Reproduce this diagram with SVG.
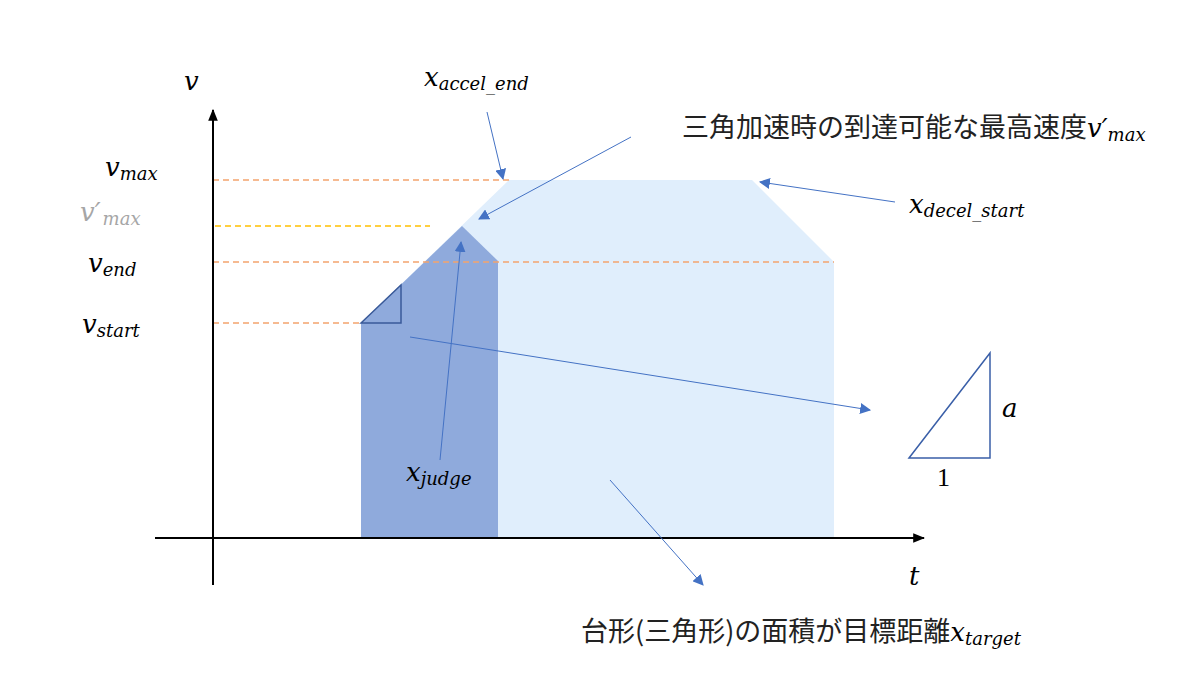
<svg xmlns="http://www.w3.org/2000/svg" width="1200" height="683" viewBox="0 0 1200 683">
<style>
.m{font-family:"DejaVu Serif","Liberation Serif",serif;font-style:italic;fill:#000}
.b{font-size:26px}
.s{font-size:18px}
.jp{font-family:"Noto Sans CJK JP","Noto Sans",sans-serif;font-size:27px;fill:#222}
.dash{stroke-width:1.5;stroke-dasharray:6 4;fill:none}
.ann{stroke:#4472C4;stroke-width:1;fill:none;marker-end:url(#ah)}
</style>
<defs>
<marker id="ah" viewBox="0 0 10 10" refX="9" refY="5" markerWidth="11" markerHeight="11" markerUnits="userSpaceOnUse" orient="auto">
<path d="M0,0 L10,5 L0,10 Z" fill="#4472C4"/>
</marker>
<marker id="ax" viewBox="0 0 10 10" refX="9" refY="5" markerWidth="12" markerHeight="12" markerUnits="userSpaceOnUse" orient="auto">
<path d="M0,1 L10,5 L0,9 Z" fill="#000"/>
</marker>
</defs>
<rect width="1200" height="683" fill="#fff"/>

<g id="area">
<polygon points="361,323 509,180 752,180 834,262 834,538 361,538" fill="#E0EEFC"/>
<polygon points="361,323 462,226 498,261 498,538 361,538" fill="#8FAADC"/>
<polygon points="361,323 401,285 401,323" fill="none" stroke="#3A5A99" stroke-width="1.5"/>
</g>

<g id="guides">
<line x1="213" y1="180" x2="509" y2="180" class="dash" stroke="#F4A46E"/>
<line x1="215" y1="226" x2="430" y2="226" class="dash" stroke="#FFC000"/>
<line x1="213" y1="262" x2="834" y2="262" class="dash" stroke="#F4A46E"/>
<line x1="213" y1="323" x2="361" y2="323" class="dash" stroke="#F4A46E"/>
</g>

<g id="axes">
<line x1="213" y1="585" x2="213" y2="110" stroke="#000" stroke-width="2" marker-end="url(#ax)"/>
<line x1="155" y1="538" x2="924" y2="538" stroke="#000" stroke-width="2" marker-end="url(#ax)"/>
</g>

<g id="slope-triangle">
<polygon points="909,458 990,353 990,458" fill="none" stroke="#3A5FA8" stroke-width="1.5"/>
</g>

<g id="connectors">
<line x1="487" y1="112" x2="503" y2="179" class="ann"/>
<line x1="631" y1="137" x2="479" y2="219" class="ann"/>
<line x1="895" y1="202" x2="760" y2="182" class="ann"/>
<line x1="440" y1="460" x2="461" y2="242" class="ann"/>
<line x1="410" y1="337" x2="870" y2="410" class="ann"/>
<line x1="610" y1="480" x2="703" y2="585" class="ann"/>
</g>

<g id="labels">
<text class="m b" x="184" y="90">v</text>
<text class="m" x="105" y="176"><tspan class="b">v</tspan><tspan class="s" dy="4">max</tspan></text>
<text class="m" x="80" y="221" style="fill:#A6A6A6"><tspan class="b">v′</tspan><tspan class="s" dx="2" dy="4">max</tspan></text>
<text class="m" x="88" y="272"><tspan class="b">v</tspan><tspan class="s" dy="4">end</tspan></text>
<text class="m" x="82" y="333"><tspan class="b">v</tspan><tspan class="s" dy="4">start</tspan></text>
<text class="m" x="424" y="86"><tspan class="b">x</tspan><tspan class="s" dy="4">accel_end</tspan></text>
<text class="m" x="909" y="213"><tspan class="b">x</tspan><tspan class="s" dy="4">decel_start</tspan></text>
<text class="m" x="406" y="481"><tspan class="b">x</tspan><tspan class="s" dy="4">judge</tspan></text>
<text class="m b" x="909" y="585">t</text>
<text class="m b" x="1002" y="417">a</text>
<text x="937" y="486" style="font-family:'Liberation Serif',serif;font-size:26px">1</text>
<text x="682" y="137"><tspan class="jp">三角加速時の到達可能な最高速度</tspan><tspan class="m b">v′</tspan><tspan class="m s" dy="4">max</tspan></text>
<text x="581" y="641"><tspan class="jp">台形(三角形)の面積が目標距離</tspan><tspan class="m b">x</tspan><tspan class="m s" dy="4">target</tspan></text>
</g>
</svg>
